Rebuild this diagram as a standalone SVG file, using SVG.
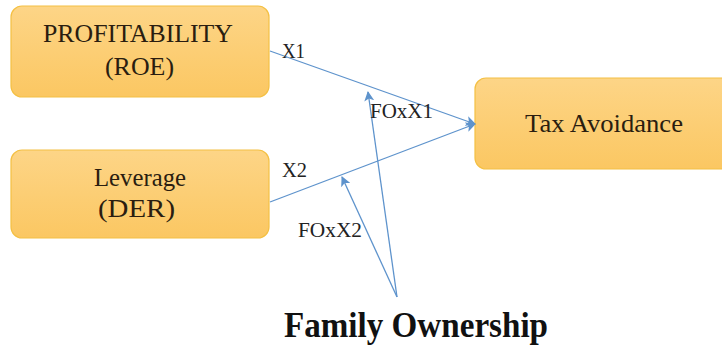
<svg xmlns="http://www.w3.org/2000/svg" width="722" height="345" viewBox="0 0 722 345">
<style>
.box{fill:url(#g);stroke:#f4c044;stroke-width:1.2}
.c{stroke:#5e93cc;stroke-width:1.3;fill:none;marker-end:url(#ah)}
</style>
<defs>
<linearGradient id="g" x1="0" y1="0" x2="0" y2="1">
<stop offset="0" stop-color="#fdd587"/>
<stop offset="1" stop-color="#fbc762"/>
</linearGradient>
<marker id="ah" viewBox="0 0 10 10" refX="9" refY="5" markerWidth="10" markerHeight="10" orient="auto" markerUnits="userSpaceOnUse">
<path d="M0,0 L10,5 L0,10 L2.5,5 Z" fill="#5e93cc"/>
</marker>
</defs>
<rect width="722" height="345" fill="#fff"/>
<g id="profitability">
<rect class="box" x="11" y="6" width="258" height="91" rx="11"/>
<text x="138" y="42" font-family="Liberation Serif, serif" font-size="25" fill="#2a1d10" text-anchor="middle" textLength="190" lengthAdjust="spacingAndGlyphs">PROFITABILITY</text>
<text x="139.5" y="75" font-family="Liberation Serif, serif" font-size="25" fill="#2a1d10" text-anchor="middle" textLength="69" lengthAdjust="spacingAndGlyphs">(ROE)</text>
</g>
<g id="leverage">
<rect class="box" x="11" y="150" width="258" height="88" rx="11"/>
<text x="140" y="186" font-family="Liberation Serif, serif" font-size="25" fill="#2a1d10" text-anchor="middle" textLength="92" lengthAdjust="spacingAndGlyphs">Leverage</text>
<text x="136.5" y="217" font-family="Liberation Serif, serif" font-size="25" fill="#2a1d10" text-anchor="middle" textLength="77" lengthAdjust="spacingAndGlyphs">(DER)</text>
</g>
<g id="tax">
<rect class="box" x="475" y="78" width="260" height="91" rx="11"/>
<text x="604" y="132" font-family="Liberation Serif, serif" font-size="25" fill="#2a1d10" text-anchor="middle" textLength="158" lengthAdjust="spacingAndGlyphs">Tax Avoidance</text>
</g>
<g id="family">
<text x="416" y="337" font-family="Liberation Serif, serif" font-size="36" font-weight="bold" fill="#111" text-anchor="middle" textLength="264" lengthAdjust="spacingAndGlyphs">Family Ownership</text>
</g>
<g id="connectors">
<line class="c" x1="270" y1="51" x2="475" y2="124"/>
<line class="c" x1="270" y1="202" x2="475" y2="124"/>
<line class="c" x1="397" y1="297" x2="368" y2="92"/>
<line class="c" x1="397" y1="297" x2="342" y2="177"/>
<text x="282" y="58" font-family="Liberation Serif, serif" font-size="20" fill="#222" textLength="23" lengthAdjust="spacingAndGlyphs">X1</text>
<text x="282" y="177" font-family="Liberation Serif, serif" font-size="20" fill="#222" textLength="25" lengthAdjust="spacingAndGlyphs">X2</text>
<text x="370" y="118" font-family="Liberation Serif, serif" font-size="20" fill="#222" textLength="63" lengthAdjust="spacingAndGlyphs">FOxX1</text>
<text x="298" y="237" font-family="Liberation Serif, serif" font-size="20" fill="#222" textLength="64" lengthAdjust="spacingAndGlyphs">FOxX2</text>
</g>
</svg>
